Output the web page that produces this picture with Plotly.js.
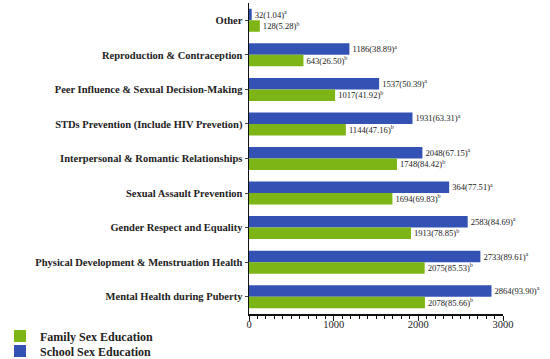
<!DOCTYPE html>
<html>
<head>
<meta charset="utf-8">
<script src="https://cdn.plot.ly/plotly-3.0.1.min.js"></script>
<style>html,body{margin:0;padding:0;background:#fff;}#chart{width:550px;height:359px;}</style>
</head>
<body>
<div id="chart"></div>
<script>
var categories = [
  "Other",
  "Reproduction & Contraception",
  "Peer Influence & Sexual Decision-Making",
  "STDs Prevention (Include HIV Prevetion)",
  "Interpersonal & Romantic Relationships",
  "Sexual Assault Prevention",
  "Gender Respect and Equality",
  "Physical Development & Menstruation Health",
  "Mental Health during Puberty"
];
var schoolValues = [32, 1186, 1537, 1931, 2048, 2364, 2583, 2733, 2864];
var schoolLabels = ["32(1.04)", "1186(38.89)", "1537(50.39)", "1931(63.31)", "2048(67.15)", "364(77.51)", "2583(84.69)", "2733(89.61)", "2864(93.90)"];
var familyValues = [128, 643, 1017, 1144, 1748, 1694, 1913, 2075, 2078];
var familyLabels = ["128(5.28)", "643(26.50)", "1017(41.92)", "1144(47.16)", "1748(84.42)", "1694(69.83)", "1913(78.85)", "2075(85.53)", "2078(85.66)"];

var serif = "Liberation Serif, Times New Roman, serif";

var school = {
  type: "bar", orientation: "h", name: "School Sex Education",
  y: categories, x: schoolValues,
  text: schoolLabels.map(function(s){ return s + "<sup>a</sup>"; }),
  textposition: "outside", cliponaxis: false,
  textfont: {family: serif, size: 9.8, color: "#222"},
  marker: {color: "#3452b4"},
  legend: "legend2"
};
var family = {
  type: "bar", orientation: "h", name: "Family Sex Education",
  y: categories, x: familyValues,
  text: familyLabels.map(function(s){ return s + "<sup>b</sup>"; }),
  textposition: "outside", cliponaxis: false,
  textfont: {family: serif, size: 9.8, color: "#222"},
  marker: {color: "#7db416"},
  legend: "legend"
};

var legendFont = {family: serif, size: 12, color: "#222", weight: "bold"};
var legendX = (-17 - 249) / 254;
var layout = {
  width: 550, height: 359,
  margin: {l: 249, r: 47, t: 3, b: 45},
  paper_bgcolor: "#fff", plot_bgcolor: "#fff",
  barmode: "group", bargap: 0.335, bargroupgap: 0,
  showlegend: true,
  legend: {
    xref: "paper", yref: "container", x: legendX, y: 1 - 336/359, xanchor: "left", yanchor: "middle",
    font: legendFont, itemwidth: 30, bgcolor: "rgba(0,0,0,0)", borderwidth: 0
  },
  legend2: {
    xref: "paper", yref: "container", x: legendX, y: 1 - 351/359, xanchor: "left", yanchor: "middle",
    font: legendFont, itemwidth: 30, bgcolor: "rgba(0,0,0,0)", borderwidth: 0
  },
  xaxis: {
    range: [0, 3000], tickvals: [0, 1000, 2000, 3000], ticktext: ["0", "1000", "2000", "3000"],
    showgrid: false, zeroline: false, showline: true, linecolor: "#111", linewidth: 1.5,
    ticks: "outside", ticklen: 5, tickwidth: 1, tickcolor: "#111", ticklabelstandoff: -5,
    minor: {dtick: 100, tick0: 0, ticks: "outside", ticklen: 3, tickcolor: "#111", showgrid: false},
    tickfont: {family: serif, size: 10.5, color: "#222"}, fixedrange: true
  },
  yaxis: {
    type: "category", autorange: "reversed",
    showgrid: false, zeroline: false, showline: true, linecolor: "#111", linewidth: 1.5,
    ticks: "outside", ticklen: 3, tickwidth: 1, tickcolor: "#444",
    tickfont: {family: serif, size: 10.5, color: "#222", weight: "bold"}, fixedrange: true
  }
};

Plotly.newPlot("chart", [school, family], layout, {displayModeBar: false, staticPlot: true});
</script>
</body>
</html>
